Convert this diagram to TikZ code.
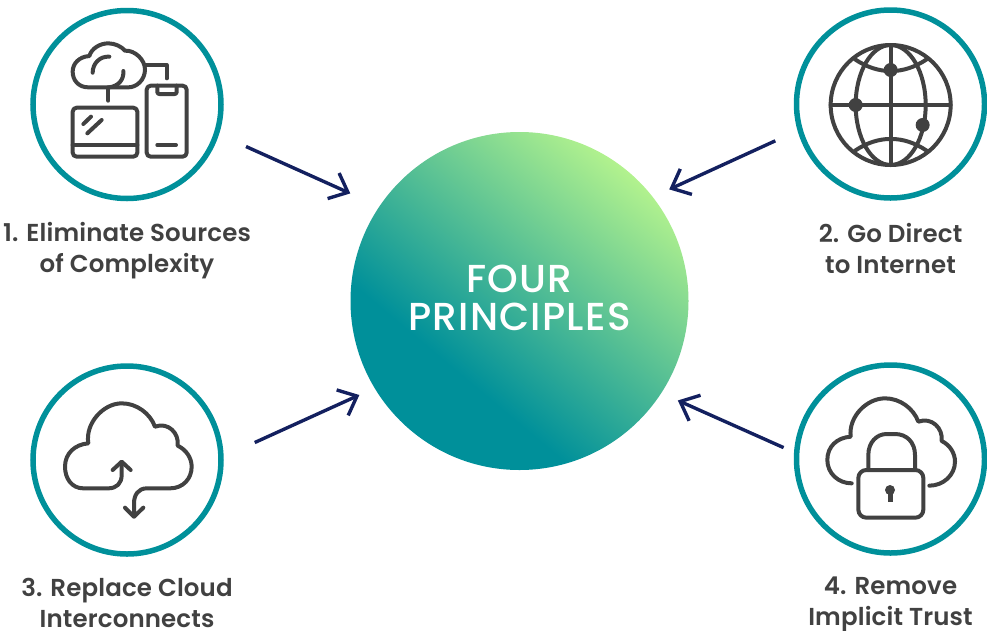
\documentclass[tikz,border=0pt]{standalone}
\usepackage{fontspec}
\setmainfont{Poppins}[UprightFont=* SemiBold,LetterSpace=0.6]
\newfontfamily\ctrfont{Poppins}[UprightFont=* Medium,LetterSpace=3.2]
\usetikzlibrary{arrows.meta}
\definecolor{tealring}{HTML}{00909A}
\definecolor{leafgreen}{HTML}{B2F28E}
\definecolor{navyline}{HTML}{13205F}
\definecolor{icongray}{HTML}{414141}
\pgfdeclareverticalshading{fourshade}{100bp}{color(0bp)=(tealring);color(36bp)=(tealring);color(75bp)=(leafgreen);color(100bp)=(leafgreen)}
\tikzset{
  ring/.style={circle,draw=tealring,line width=5.5pt,minimum size=188pt,inner sep=0pt},
  lbl/.style={align=center,text=icongray,font=\fontsize{24.5}{31}\selectfont},
  link/.style={navyline,line width=3.4pt,-{Straight Barb[length=16pt,width=28pt,line width=3.4pt]}},
  ico/.style={icongray,line width=4pt,line cap=round,line join=round},
}
\begin{document}
\begin{tikzpicture}[x=1pt,y=-1pt]
   \useasboundingbox (0,0) rectangle (987,630);
   \node[circle,minimum size=338pt,inner sep=0pt,outer sep=0pt,shading=fourshade,shading angle=-40] (ctr) at (519.5,301) {};
   \node[text=white,align=center,font=\ctrfont\fontsize{39}{37.5}\selectfont] (ctrtxt) at (519.5,298) {FOUR\\PRINCIPLES};
   \node[ring] (one) at (127,104.5) {};
   \node[ring] (two) at (890.5,104) {};
   \node[ring] (three) at (127,460) {};
   \node[ring] (four) at (890.5,459) {};
   \node[lbl] (lblone) at (127,251) {1. Eliminate Sources\\of Complexity};
   \node[lbl] (lbltwo) at (890.5,248) {2. Go Direct\\to Internet};
   \node[lbl] (lblthree) at (127,603) {3. Replace Cloud\\Interconnects};
   \node[lbl] (lblfour) at (890.5,604) {4. Remove\\Implicit Trust};
   \draw[link,shorten <=29.6pt,shorten >=31.9pt] (one.-18.3) -- (ctr.146.2);
   \draw[link,shorten <=24.4pt,shorten >=18.2pt] (two.196) -- (ctr.38.5);
   \draw[link,shorten <=34.1pt,shorten >=16.8pt] (three.2.1) -- (ctr.211);
   \draw[link,shorten <=11.4pt,shorten >=18.2pt] (four.176.5) -- (ctr.-33.1);
   % devices and cloud
   \begin{scope}[shift={(20,0)},scale=1/3]
    \draw[ico] (205,262) .. controls (175,262) and (158,240) .. (158,215) .. controls (158,190) and (178,170) .. (208,168)
      .. controls (215,145) and (240,130) .. (265,130) .. controls (285,130) and (305,140) .. (315,152)
      .. controls (345,150) and (375,180) .. (375,208) .. controls (375,240) and (350,262) .. (325,262) -- cycle;
    \draw[ico] (268,170) .. controls (240,168) and (218,190) .. (218,218);
    \draw[ico] (310,213) .. controls (312,240) and (295,258) .. (268,262);
    \draw[ico] (265,262) -- (265,302);
    \draw[ico] (375,195) -- (440,195) -- (440,235);
    \draw[ico,rounded corners=4pt] (158,323) rectangle (352,470);
    \draw[ico] (158,435) -- (352,435);
    \draw[ico] (190,372) -- (213,350);
    \draw[ico] (202,400) -- (245,360);
    \draw[ico,rounded corners=4pt] (380,257) rectangle (500,470);
    \draw[ico,rounded corners=2pt] (412,257) -- (412,282) -- (470,282) -- (470,257);
    \draw[ico] (412,435) -- (468,435);
   \end{scope}
   % globe
   \begin{scope}[shift={(790,0)},scale=1/3]
    \draw[ico] (302,315) circle (180);
    \draw[ico] (302,315) ellipse (105 and 180);
    \draw[ico] (302,135) -- (302,495);
    \draw[ico] (122,315) -- (482,315);
    \draw[ico] (195,178) .. controls (265,225) and (340,225) .. (410,178);
    \draw[ico] (195,452) .. controls (265,405) and (340,405) .. (410,452);
    \fill[icongray] (302,210) circle (21);
    \fill[icongray] (197,315) circle (21);
    \fill[icongray] (398,375) circle (21);
   \end{scope}
   % cloud with arrows
   \begin{scope}[shift={(20,355)},scale=1/3]
    \draw[ico] (305,325) -- (305,360) .. controls (305,385) and (290,400) .. (265,400) -- (190,400)
      .. controls (155,400) and (135,370) .. (135,335) .. controls (135,295) and (165,268) .. (205,265)
      .. controls (195,205) and (250,145) .. (305,145) .. controls (350,145) and (390,175) .. (405,215)
      .. controls (445,200) and (478,235) .. (473,272) .. controls (500,285) and (515,310) .. (515,335)
      .. controls (515,370) and (490,400) .. (450,400) -- (380,400) .. controls (355,400) and (342,420) .. (342,445) -- (342,485);
    \draw[ico] (278,345) -- (305,320) -- (332,345);
    \draw[ico] (315,458) -- (342,485) -- (370,458);
   \end{scope}
   % cloud with lock
   \begin{scope}[shift={(790,355)},scale=1/3]
    \draw[ico] (185,385) .. controls (145,385) and (112,355) .. (112,315) .. controls (112,275) and (140,248) .. (182,245)
      .. controls (175,185) and (230,130) .. (285,130) .. controls (330,130) and (370,160) .. (385,200)
      .. controls (425,185) and (460,220) .. (455,258) .. controls (480,270) and (495,295) .. (495,320)
      .. controls (495,360) and (460,392) .. (418,392);
    \draw[ico,rounded corners=8pt] (205,345) rectangle (400,488);
    \draw[ico] (235,345) -- (235,300) .. controls (235,262) and (260,237) .. (290,237) -- (315,237) .. controls (350,237) and (375,262) .. (375,300) -- (375,345);
    \fill[icongray] (300,405) circle (15);
    \fill[icongray] (293,408) rectangle (308,440);
   \end{scope}
\end{tikzpicture}
\end{document}
